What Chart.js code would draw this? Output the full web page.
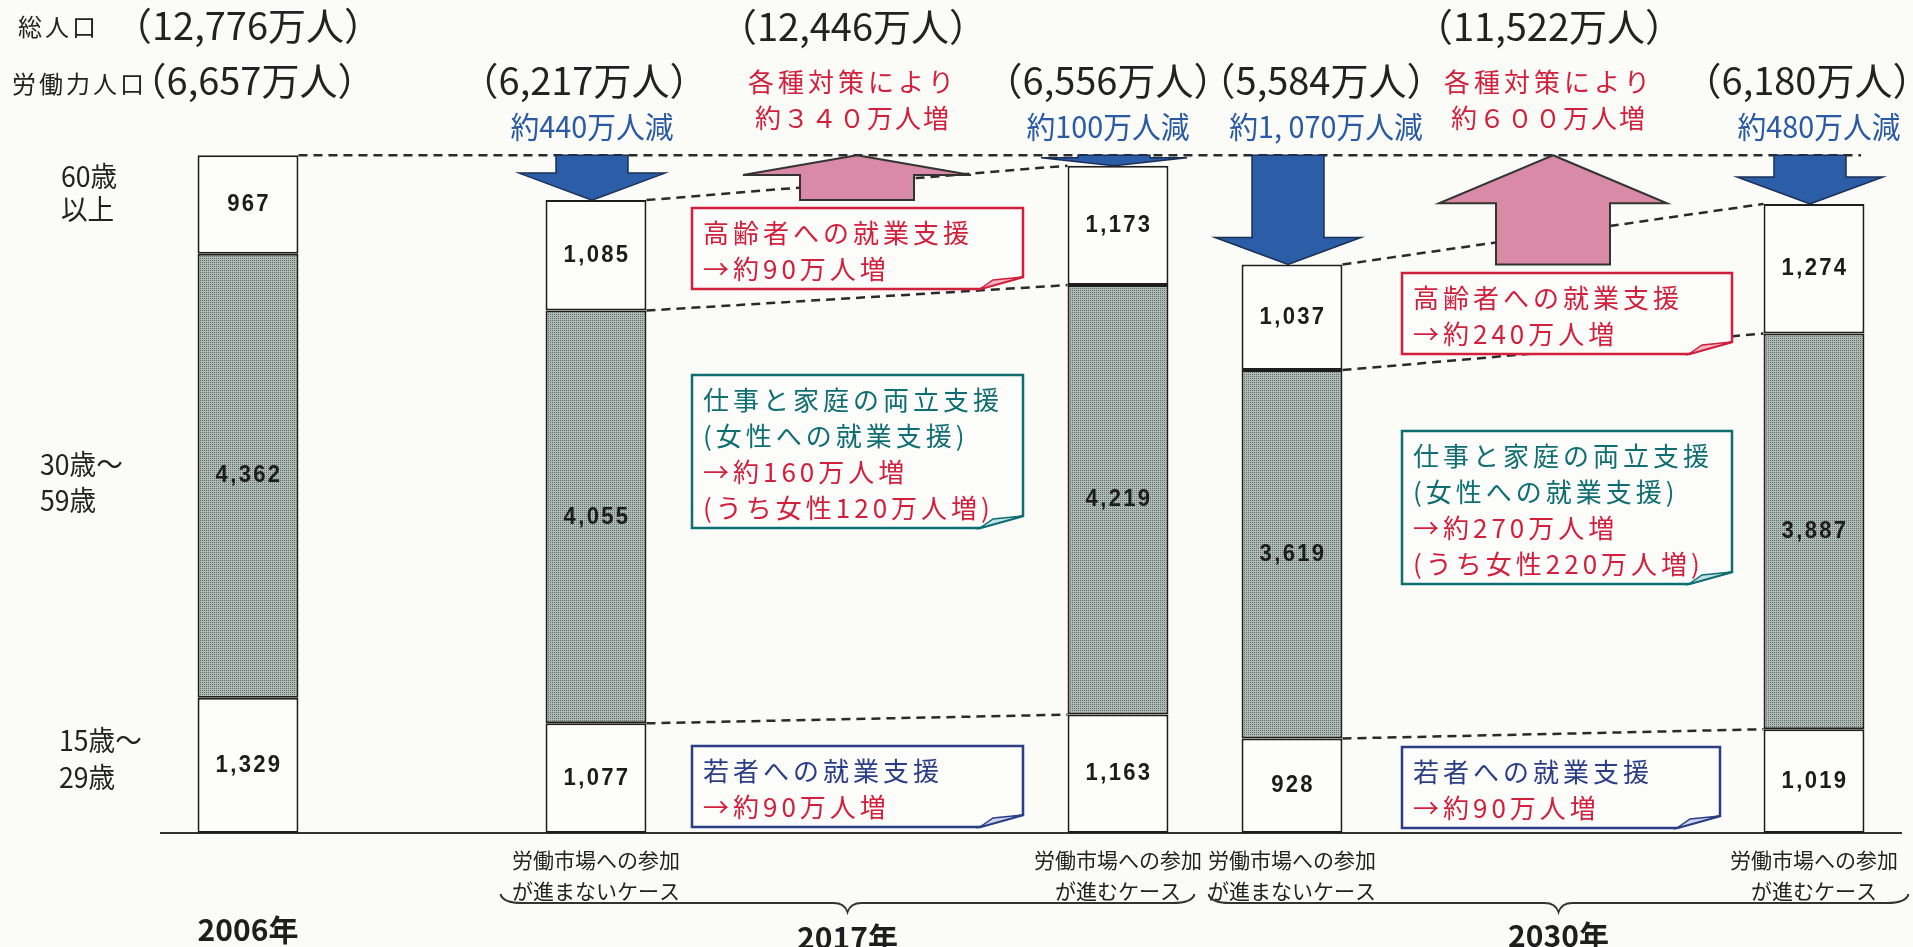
<!DOCTYPE html>
<html lang="ja">
<head>
<meta charset="utf-8">
<script src="https://cdn.jsdelivr.net/npm/chart.js@4.4.1/dist/chart.umd.min.js"></script>
<style>
  html, body { margin: 0; padding: 0; background: #fbfbf8; }
  #wrap { width: 1913px; height: 947px; }
</style>
</head>
<body>
<div id="wrap"><canvas id="c" width="1913" height="947"></canvas></div>
<script>
// ---- データ（万人） 空きスロットは null ----
const categories = ['2006年', '', '2017年 進まない', '', '', '2017年 進む', '2030年 進まない', '', '', '2030年 進む'];
const caseLabels = ['', '', ['労働市場への参加', 'が進まないケース'], '', '', ['労働市場への参加', 'が進むケース'],
                    ['労働市場への参加', 'が進まないケース'], '', '', ['労働市場への参加', 'が進むケース']];
const age15_29 = [1329, null, 1077, null, null, 1163, 928, null, null, 1019];
const age30_59 = [4362, null, 4055, null, null, 4219, 3619, null, null, 3887];
const age60    = [967,  null, 1085, null, null, 1173, 1037, null, null, 1274];
const totalLabels  = ['（6,657万人）', '', '（6,217万人）', '', '', '（6,556万人）', '（5,584万人）', '', '', '（6,180万人）'];
const changeLabels = ['', '', '約440万人減', '', '', '約100万人減', '約1, 070万人減', '', '', '約480万人減'];
const yearLabels = ['2006年', '2017年', '2030年'];
const popLabels  = ['（12,776万人）', '（12,446万人）', '（11,522万人）'];
const policyGain = ['約３４０万人増', '約６００万人増'];
const elderlyGain = ['→約90万人増', '→約240万人増'];
const womenGain = [['→約160万人増', '(うち女性120万人増)'], ['→約270万人増', '(うち女性220万人増)']];
const youthGain = ['→約90万人増', '→約90万人増'];

const JP = '"Noto Sans CJK JP", "Noto Sans CJK SC", sans-serif';

// 網掛け（30〜59歳）
const dots = (() => {
  const c = document.createElement('canvas');
  c.width = 2; c.height = 2;
  const g = c.getContext('2d');
  g.fillStyle = '#b0bbb8'; g.fillRect(0, 0, 2, 2);
  g.fillStyle = '#5f6e6a'; g.fillRect(0, 0, 1, 1);
  return g.createPattern(c, 'repeat');
})();

function text(ctx, s, x, y, o) {
  ctx.save();
  ctx.font = o.font;
  ctx.fillStyle = o.color || '#222';
  ctx.textBaseline = 'middle';
  ctx.textAlign = o.align || 'left';
  ctx.letterSpacing = (o.ls || 0) + 'px';
  ctx.translate(x, y);
  ctx.scale(o.sx || 1, 1);
  ctx.fillText(s, 0, 0);
  ctx.restore();
}

function downArrow(ctx, cx, yTop, yTip) {
  const total = yTip - yTop, head = Math.min(27, total * 0.75);
  const sw = 72, hw = 146;
  ctx.beginPath();
  ctx.moveTo(cx - sw / 2, yTop);
  ctx.lineTo(cx + sw / 2, yTop);
  ctx.lineTo(cx + sw / 2, yTip - head);
  ctx.lineTo(cx + hw / 2, yTip - head);
  ctx.lineTo(cx, yTip);
  ctx.lineTo(cx - hw / 2, yTip - head);
  ctx.lineTo(cx - sw / 2, yTip - head);
  ctx.closePath();
  ctx.fillStyle = '#2b5ea7'; ctx.fill();
  ctx.strokeStyle = '#1b2f55'; ctx.lineWidth = 1.5; ctx.setLineDash([]); ctx.stroke();
}

function upArrow(ctx, cx, yTip, yBase) {
  const head = (yBase - yTip) * 0.44, sw = 114, hw = 228;
  ctx.beginPath();
  ctx.moveTo(cx, yTip);
  ctx.lineTo(cx + hw / 2, yTip + head);
  ctx.lineTo(cx + sw / 2, yTip + head);
  ctx.lineTo(cx + sw / 2, yBase);
  ctx.lineTo(cx - sw / 2, yBase);
  ctx.lineTo(cx - sw / 2, yTip + head);
  ctx.lineTo(cx - hw / 2, yTip + head);
  ctx.closePath();
  ctx.fillStyle = '#d98aa7'; ctx.fill();
  ctx.strokeStyle = '#333'; ctx.lineWidth = 2; ctx.setLineDash([]); ctx.stroke();
}

function callout(ctx, x, y, w, lines, edge, fold) {
  const h = lines.length * 36 + 9;
  ctx.save();
  ctx.setLineDash([]);
  ctx.beginPath();
  ctx.moveTo(x, y); ctx.lineTo(x + w, y); ctx.lineTo(x + w, y + h - 12);
  ctx.lineTo(x + w - 43, y + h); ctx.lineTo(x, y + h); ctx.closePath();
  ctx.fillStyle = '#fcfcfa'; ctx.fill();
  ctx.strokeStyle = edge; ctx.lineWidth = 2.5; ctx.stroke();
  ctx.beginPath();
  ctx.moveTo(x + w, y + h - 12); ctx.lineTo(x + w - 43, y + h); ctx.lineTo(x + w - 30, y + h - 9); ctx.closePath();
  ctx.fillStyle = fold; ctx.fill(); ctx.lineWidth = 1.5; ctx.stroke();
  ctx.restore();
  lines.forEach((ln, k) => text(ctx, ln[0], x + 11, y + 25 + 36 * k, { font: '26px ' + JP, color: ln[1], ls: 4 }));
}

function brace(ctx, x0, x1, y) {
  const xm = (x0 + x1) / 2;
  ctx.beginPath();
  ctx.moveTo(x0, y - 9);
  ctx.quadraticCurveTo(x0 + 2, y, x0 + 22, y);
  ctx.lineTo(xm - 14, y);
  ctx.quadraticCurveTo(xm - 3, y, xm, y + 9);
  ctx.quadraticCurveTo(xm + 3, y, xm + 14, y);
  ctx.lineTo(x1 - 22, y);
  ctx.quadraticCurveTo(x1 - 2, y, x1, y - 9);
  ctx.strokeStyle = '#333'; ctx.lineWidth = 2; ctx.setLineDash([]); ctx.stroke();
}

const overlay = {
  id: 'overlay',
  afterDatasetsDraw(chart) {
    const ctx = chart.ctx;
    const metas = [0, 1, 2].map(d => chart.getDatasetMeta(d));
    const bar = i => { const e = metas[2].data[i]; return { x: e.x, l: e.x - e.width / 2, r: e.x + e.width / 2, top: e.y }; };
    const refY = bar(0).top;
    const RED = '#d21f3c', BLUE = '#2a5aa3', TEAL = '#0f6e72', NAVY = '#2b3d86';

    // 点線（2006年の水準・各区分の境界）
    ctx.save();
    ctx.setLineDash([9, 6]); ctx.lineWidth = 2.5; ctx.strokeStyle = '#2a2a2a';
    ctx.beginPath(); ctx.moveTo(bar(0).r, refY); ctx.lineTo(chart.chartArea.right - 40, refY); ctx.stroke();
    [[2, 5], [6, 9]].forEach(([a, b]) => {
      metas.forEach(m => {
        ctx.beginPath();
        ctx.moveTo(bar(a).r, m.data[a].y);
        ctx.lineTo(bar(b).l, m.data[b].y);
        ctx.stroke();
      });
    });
    ctx.restore();

    // 棒の中の数値
    [age15_29, age30_59, age60].forEach((vals, d) => {
      vals.forEach((v, i) => {
        if (v == null) return;
        const e = metas[d].data[i];
        text(ctx, v.toLocaleString('en-US'), e.x + 1, (e.y + e.base) / 2,
          { font: 'bold 24px "Liberation Sans", Arial, sans-serif', align: 'center', ls: 2.5, color: '#1c1c1c', sx: 0.92 });
      });
    });

    // 矢印
    [2, 5, 6, 9].forEach(i => downArrow(ctx, bar(i).x - 4, refY, bar(i).top));
    [[2, 5], [6, 9]].forEach(([a, b]) => upArrow(ctx, (bar(a).x + bar(b).x) / 2, refY, bar(a).top));

    // 労働力人口・増減
    const totalNudge  = [4, 0, -12, 0, 0, -10, 29, 0, 0, -7];
    const changeNudge = [0, 0, -4, 0, 0, -10, 34, 0, 0, 5];
    const big = { font: '38px ' + JP, align: 'center', sx: 1.0 };
    totalLabels.forEach((s, i) => {
      if (!s) return;
      text(ctx, s, bar(i).x + totalNudge[i], 81, big);
      if (changeLabels[i]) text(ctx, changeLabels[i], bar(i).x + changeNudge[i], 127,
        { font: '30px ' + JP, align: 'center', sx: 0.96, color: BLUE });
    });
    text(ctx, '総人口', 18, 27, { font: '24px ' + JP, ls: 3 });
    text(ctx, '労働力人口', 12, 84, { font: '24px ' + JP, ls: 3 });
    text(ctx, popLabels[0], bar(0).x, 26, big);
    [[2, 5], [6, 9]].forEach(([a, b], k) => {
      const cx = (bar(a).x + bar(b).x) / 2 - 4;
      text(ctx, popLabels[k + 1], cx, 27, big);
      text(ctx, '各種対策により', cx, 82, { font: '26px ' + JP, align: 'center', ls: 4, color: RED });
      text(ctx, policyGain[k], cx, 118, { font: '26px ' + JP, align: 'center', ls: 2, color: RED });
    });

    // 年齢区分
    const age = { font: '28px ' + JP, sx: 0.95 };
    text(ctx, '60歳', 61, 176, age); text(ctx, '以上', 61, 209, age);
    text(ctx, '30歳～', 40, 464, age); text(ctx, '59歳', 40, 500, age);
    text(ctx, '15歳～', 59, 740, age); text(ctx, '29歳', 59, 777, age);

    // 吹き出し
    [[2, 692, 331, 208, 375, 746], [6, 1402, 330, 273, 431, 747]].forEach(([i, x, w, y1, y2, y3], k) => {
      callout(ctx, x, y1, w, [['高齢者への就業支援', RED], [elderlyGain[k], RED]], RED, '#f2b7c0');
      callout(ctx, x, y2, w, [['仕事と家庭の両立支援', TEAL], ['(女性への就業支援)', TEAL],
        [womenGain[k][0], RED], [womenGain[k][1], RED]], TEAL, '#bfe0e6');
      callout(ctx, x, y3, w - (k ? 12 : 0), [['若者への就業支援', NAVY], [youthGain[k], RED]], NAVY, '#c9d4ee');
    });

    // 年
    brace(ctx, bar(2).l - 45, bar(5).r + 26, 903);
    brace(ctx, bar(6).l - 33, bar(9).r + 44, 903);
    const yr = { font: 'bold 30px ' + JP, align: 'center', sx: 1.0, color: '#1e1e1e' };
    text(ctx, yearLabels[0], bar(0).x, 930, yr);
    text(ctx, yearLabels[1], (bar(2).l - 45 + bar(5).r + 26) / 2, 938, yr);
    text(ctx, yearLabels[2], (bar(6).l - 33 + bar(9).r + 44) / 2, 936, yr);
  }
};

const seg = { borderColor: '#1e1e1e', borderWidth: 2, borderSkipped: false, barPercentage: 1, categoryPercentage: 0.58 };

new Chart(document.getElementById('c'), {
  type: 'bar',
  data: {
    labels: categories,
    datasets: [
      Object.assign({ label: '15歳～29歳', data: age15_29, backgroundColor: '#fdfdfb' }, seg),
      Object.assign({ label: '30歳～59歳', data: age30_59, backgroundColor: dots }, seg),
      Object.assign({ label: '60歳以上', data: age60, backgroundColor: '#fdfdfb' }, seg)
    ]
  },
  options: {
    responsive: false,
    animation: false,
    devicePixelRatio: 1,
    layout: { padding: { left: 161, right: 12, top: 120.4, bottom: 0 } },
    plugins: { legend: { display: false }, tooltip: { enabled: false } },
    scales: {
      x: {
        stacked: true,
        grid: { display: false },
        border: { display: true, color: '#333', width: 2 },
        ticks: {
          autoSkip: false, maxRotation: 0, padding: 4, color: '#222',
          font: { family: 'Noto Sans CJK JP', size: 21, lineHeight: 1.45 },
          callback: (v, i) => caseLabels[i]
        },
        afterFit: s => { s.height = 114; }
      },
      y: { stacked: true, display: false, min: 0, max: 7000 }
    }
  },
  plugins: [overlay]
});
</script>
</body>
</html>
